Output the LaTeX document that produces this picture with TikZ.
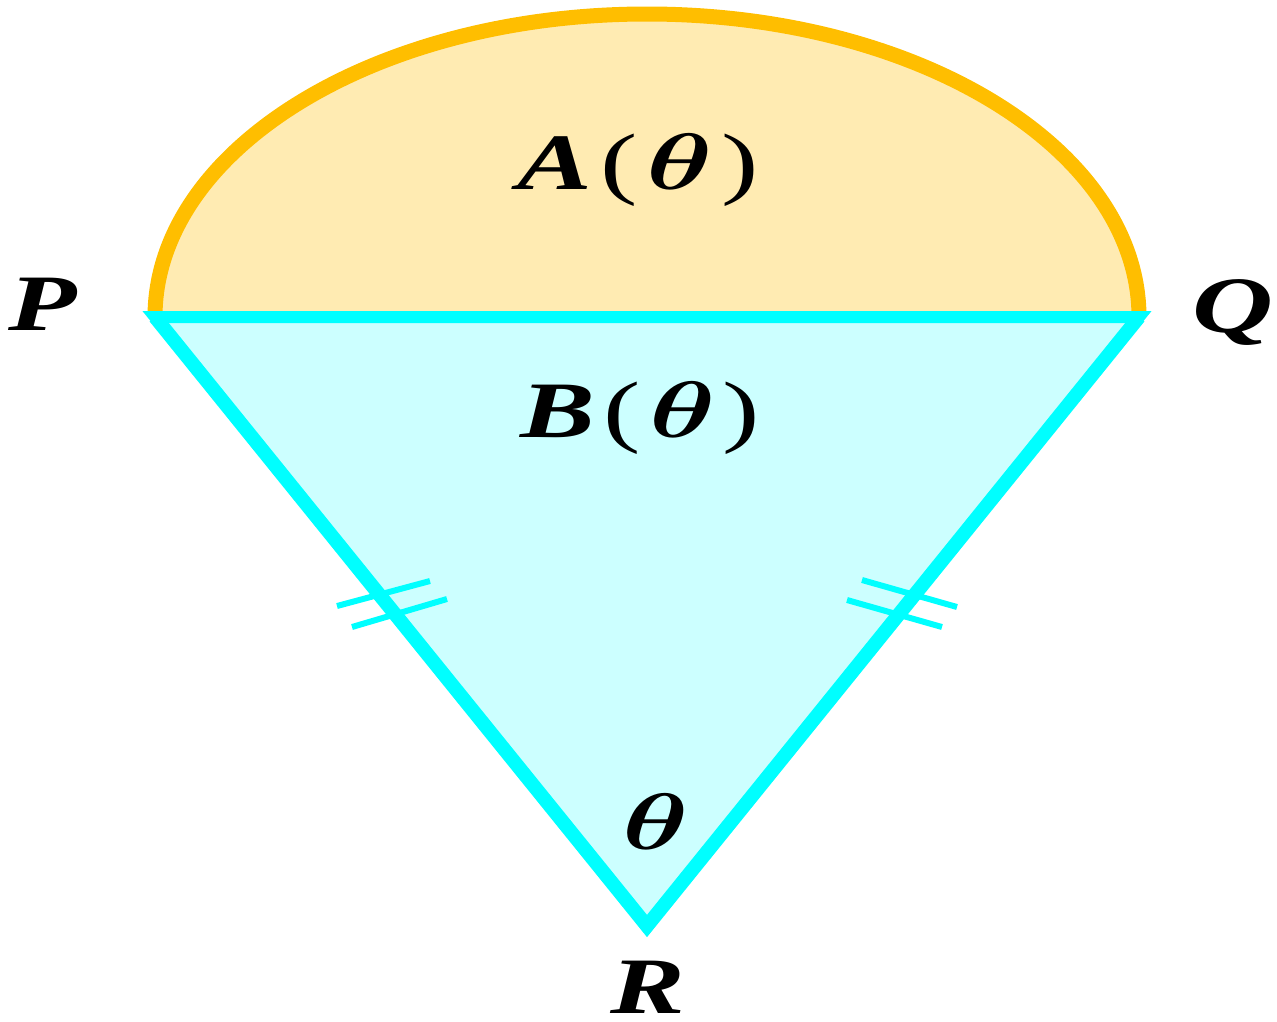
\documentclass[tikz,border=0pt]{standalone}
\usepackage{graphicx}
\usepackage{fontspec}
\setmainfont{Liberation Serif}
\definecolor{fillA}{RGB}{255,235,178}
\definecolor{lineA}{RGB}{255,190,0}
\definecolor{fillB}{RGB}{204,255,255}
\definecolor{lineB}{RGB}{0,255,255}
\newcommand{\bth}{\scalebox{8}{\fontsize{10}{12}\selectfont\boldmath$\theta$}}
\begin{document}
\begin{tikzpicture}[x=1pt,y=1pt,
  lbl/.style={font=\fontsize{80}{96}\selectfont, xscale=1.4, inner sep=0pt, anchor=base},
  tickmark/.style={draw=lineB, line width=6pt},
  side/.style={draw=lineB, line width=14pt, line join=miter},
  topside/.style={draw=lineB, line width=12pt, line join=miter}]
\useasboundingbox (0,0) rectangle (1277,-1021);
\coordinate (P) at (155,-317);
\coordinate (Q) at (1139,-317);
\coordinate (R) at (647,-926);
% region A
\fill[fillA] (P) arc[start angle=180, end angle=0, x radius=492, y radius=303] -- cycle;
\draw[lineA, line width=15pt] (P) arc[start angle=180, end angle=0, x radius=492, y radius=303];
% region B
\fill[fillB] (P) -- (Q) -- (R) -- cycle;
\draw[topside] (P) -- (Q) -- (R) -- cycle;
\draw[side] (P) -- (R) -- (Q);
% equal-length tick marks
\draw[tickmark] (337,-606) -- (430,-581);
\draw[tickmark] (352,-627) -- (447,-599);
\draw[tickmark] (862,-580) -- (957,-607);
\draw[tickmark] (847,-600) -- (942,-627);
% labels
\node[lbl] (lA) at (638,-189) {\textbf{\textit{A}}\kern6pt(\kern6pt\bth\kern6pt)};
\node[lbl] (lB) at (640,-437) {\textbf{\textit{B}}\kern6pt(\kern6pt\bth\kern5pt)};
\node[lbl] (lT) at (656,-849) {\bth};
\node[lbl] (lP) at (43,-330) {\textbf{\textit{P}}};
\node[lbl] (lQ) at (1233,-332) {\textbf{\textit{Q}}};
\node[lbl] (lR) at (648,-1013) {\textbf{\textit{R}}};
\end{tikzpicture}
\end{document}
